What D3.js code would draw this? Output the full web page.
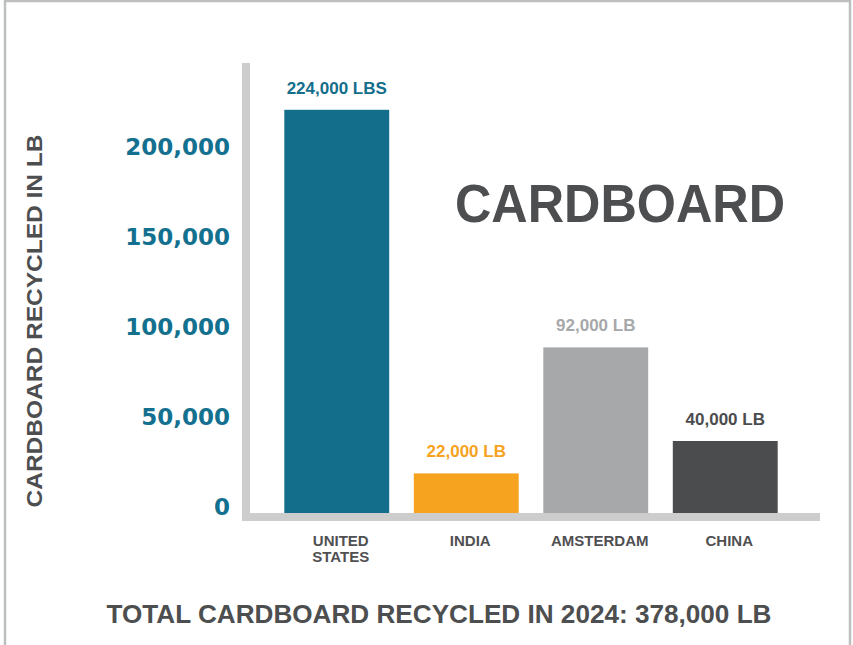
<!DOCTYPE html>
<html>
<head>
<meta charset="utf-8">
<script src="https://cdn.jsdelivr.net/npm/d3@7"></script>
<style>
  html, body { margin: 0; padding: 0; background: #ffffff; }
  svg { display: block; font-family: "Liberation Sans", Arial, Helvetica, sans-serif; }
</style>
</head>
<body>
<script>
// Cardboard recycled per location, in pounds
const categories = ["UNITED STATES", "INDIA", "AMSTERDAM", "CHINA"];
const values = [224000, 22000, 92000, 40000];
const valueLabels = ["224,000 LBS", "22,000 LB", "92,000 LB", "40,000 LB"];
const barColors = ["#136e8c", "#f6a31f", "#a7a8aa", "#4b4c4e"];
const labelColors = ["#136e8c", "#f6a31f", "#a7a8aa", "#4b4c4e"];
const tickValues = [0, 50000, 100000, 150000, 200000];
const chartTitle = "CARDBOARD";
const yTitle = "CARDBOARD RECYCLED IN LB";
const footer = "TOTAL CARDBOARD RECYCLED IN 2024: 378,000 LB";

const W = 853, H = 645;
const svg = d3.select("body").append("svg").attr("width", W).attr("height", H);

// outer frame (open at the bottom)
svg.append("path")
  .attr("d", "M5,645 V1 H850 V645")
  .attr("fill", "none")
  .attr("stroke", "#bcbec0")
  .attr("stroke-width", 2.5);

const x = d3.scaleBand()
  .domain(categories)
  .range([272, 790])
  .paddingInner(0.19)
  .paddingOuter(0.095);

const y = d3.scaleLinear()
  .domain([0, 250000])
  .range([513, 63]);

// axis lines
const axisColor = "#cdcdcd";
svg.append("rect")
  .attr("x", 242).attr("y", y(250000))
  .attr("width", 8).attr("height", 521 - y(250000))
  .attr("fill", axisColor);
svg.append("rect")
  .attr("x", 242).attr("y", y(0))
  .attr("width", 820 - 242).attr("height", 8)
  .attr("fill", axisColor);

// y tick labels
const yAxis = d3.axisLeft(y)
  .tickValues(tickValues)
  .tickFormat(d3.format(","))
  .tickSize(0)
  .tickPadding(0);
const gy = svg.append("g").attr("transform", "translate(230,-6)").call(yAxis);
gy.select(".domain").remove();
gy.selectAll("text")
  .attr("fill", "#13708f")
  .attr("font-size", 23)
  .attr("font-weight", "bold")
  .attr("font-family", "\"DejaVu Sans\", \"Liberation Sans\", sans-serif");

// bars
svg.append("g").selectAll("rect")
  .data(values)
  .join("rect")
  .attr("x", (d, i) => x(categories[i]))
  .attr("y", d => y(d))
  .attr("width", x.bandwidth())
  .attr("height", d => y(0) - y(d))
  .attr("fill", (d, i) => barColors[i]);

// value labels above bars
svg.append("g").selectAll("text")
  .data(values)
  .join("text")
  .attr("x", (d, i) => x(categories[i]) + x.bandwidth() / 2)
  .attr("y", d => y(d) - 16)
  .attr("text-anchor", "middle")
  .attr("font-size", 17)
  .attr("font-weight", "bold")
  .attr("fill", (d, i) => labelColors[i])
  .text((d, i) => valueLabels[i]);

// category labels
const catG = svg.append("g");
categories.forEach(c => {
  const words = c === "UNITED STATES" ? ["UNITED", "STATES"] : [c];
  const cx = x(c) + x.bandwidth() / 2 + 4;
  const t = catG.append("text")
    .attr("x", cx)
    .attr("y", 546)
    .attr("text-anchor", "middle")
    .attr("font-size", 15)
    .attr("font-weight", "bold")
    .attr("fill", "#505052");
  words.forEach((w, k) => {
    t.append("tspan")
      .attr("x", cx)
      .attr("dy", k === 0 ? 0 : 16)
      .text(w);
  });
});

// big title
svg.append("text")
  .attr("x", 620)
  .attr("y", 222)
  .attr("text-anchor", "middle")
  .attr("font-size", 54)
  .attr("font-weight", "bold")
  .attr("fill", "#4d4e50")
  .attr("textLength", 330)
  .attr("lengthAdjust", "spacingAndGlyphs")
  .text(chartTitle);

// rotated y title
svg.append("text")
  .attr("transform", "translate(42,321) rotate(-90)")
  .attr("text-anchor", "middle")
  .attr("font-size", 22)
  .attr("font-weight", "bold")
  .attr("fill", "#4d4e50")
  .attr("textLength", 373)
  .attr("lengthAdjust", "spacingAndGlyphs")
  .text(yTitle);

// footer total
svg.append("text")
  .attr("x", 439)
  .attr("y", 623)
  .attr("text-anchor", "middle")
  .attr("font-size", 25)
  .attr("font-weight", "bold")
  .attr("fill", "#4d4e50")
  .attr("textLength", 665)
  .attr("lengthAdjust", "spacingAndGlyphs")
  .text(footer);
</script>
</body>
</html>
